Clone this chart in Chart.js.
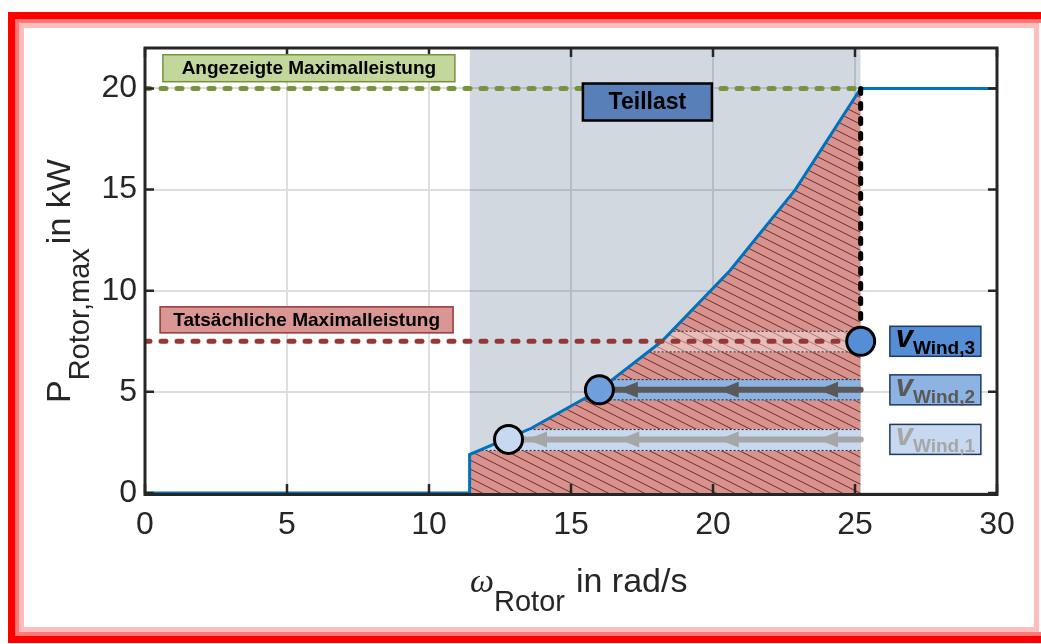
<!DOCTYPE html>
<html lang="de">
<head>
<meta charset="UTF-8">
<title>Maximale Rotorleistung</title>
<script src="https://cdn.jsdelivr.net/npm/chart.js@4"></script>
<style>
  * { margin:0; padding:0; box-sizing:border-box; }
  html, body { width:1041px; height:644px; overflow:hidden; background:#fff; }
  .frame { position:absolute; }
  #f1 { left:8px; top:12px; width:1100px; height:631px; border:7px solid #ff0000; border-right:none; }
  #f2 { left:15px; top:19px; width:1100px; height:617px; border:4px solid #ff7878; border-right:none; }
  #f3 { left:19px; top:23px; width:1020px; height:609px; border:5px solid #ffbcbc; }
  #chart { position:absolute; left:0; top:0; }
</style>
</head>
<body>
<div class="frame" id="f1"></div>
<div class="frame" id="f2"></div>
<div class="frame" id="f3"></div>
<canvas id="chart" width="1041" height="644"></canvas>

<script>
// Kennlinie P(omega)
const omegaCurve = [0, 11.43, 11.43, 13.6, 15.9, 18.2, 20.6, 22.9, 25.2, 30];
const powerCurve = [0, 0, 1.9, 3.2, 5.0, 7.5, 11.0, 15.0, 20.0, 20.0];

// Teillastbereich und Leistungsgrenzen
const partLoad = [11.43, 25.2];
const yTop = 22;
const ratedPower = 20;
const actualPower = 7.5;

// Arbeitspunkte fuer drei Windgeschwindigkeiten
const windNames = ['Wind,1', 'Wind,2', 'Wind,3'];
const windOmega = [12.8, 16.0, 25.2];
const windPower = [2.65, 5.1, 7.5];
const bandLow = [2.08, 4.58, 6.95];
const bandHigh = [3.16, 5.63, 8.02];
const arrowTips = [[13.45, 16.7, 20.2, 23.7], [16.65, 20.2, 23.7], []];

const xTicks = [0, 5, 10, 15, 20, 25, 30];
const yTicks = [0, 5, 10, 15, 20];

const pts = (xs, ys) => xs.map((v, i) => ({ x: v, y: ys[i] }));
const FONT = '"Liberation Sans", Arial, sans-serif';

const canvas = document.getElementById('chart');
const ctx = canvas.getContext('2d');

function hatchPattern() {
  const c = document.createElement('canvas');
  c.width = 18; c.height = 9;
  const g = c.getContext('2d');
  g.fillStyle = '#d9938f';
  g.fillRect(0, 0, 18, 9);
  g.strokeStyle = '#6e2c29';
  g.lineWidth = 1;
  g.beginPath();
  for (let k = -1; k <= 1; k++) { g.moveTo(0, 9 * k); g.lineTo(18, 9 + 9 * k); }
  g.stroke();
  return ctx.createPattern(c, 'repeat');
}

const hatchX = omegaCurve.slice(2, 9);
const hatchP = powerCurve.slice(2, 9);

const bandFill = ['#c6d9f1', '#8db3e2', 'rgba(255,255,255,0.38)'];
const arrowColor = ['#a6a6a6', '#595959', null];
const dotFill = ['#c6d9f1', '#6f9fdc', '#558ed5'];
const boxFill = ['#c6d9f1', '#8db3e2', '#558ed5'];
const boxText = ['#a6a6a6', '#595959', '#000000'];

function box(c, cx, cy, w, h, fill, stroke, lw) {
  c.fillStyle = fill;
  c.fillRect(cx - w / 2, cy - h / 2, w, h);
  c.strokeStyle = stroke;
  c.lineWidth = lw;
  c.strokeRect(cx - w / 2, cy - h / 2, w, h);
}

const overlay = {
  id: 'overlay',
  afterDatasetDraw(chart, args) {
    if (args.index !== 1) return;
    const { ctx: c, scales: { x, y } } = chart;
    c.save();
    // Baender nur innerhalb der schraffierten Flaeche
    c.beginPath();
    c.moveTo(x.getPixelForValue(hatchX[0]), y.getPixelForValue(0));
    hatchX.forEach((v, i) => c.lineTo(x.getPixelForValue(v), y.getPixelForValue(hatchP[i])));
    c.lineTo(x.getPixelForValue(hatchX[hatchX.length - 1]), y.getPixelForValue(0));
    c.closePath();
    c.clip();
    const x0 = x.getPixelForValue(partLoad[0]);
    const x1 = x.getPixelForValue(partLoad[1]);
    windPower.forEach((p, i) => {
      const yt = y.getPixelForValue(bandHigh[i]);
      const yb = y.getPixelForValue(bandLow[i]);
      c.fillStyle = bandFill[i];
      c.fillRect(x0, yt, x1 - x0, yb - yt);
      c.strokeStyle = '#222';
      c.lineWidth = 1;
      c.setLineDash([2, 2]);
      c.beginPath();
      c.moveTo(x0, yt + 0.5); c.lineTo(x1, yt + 0.5);
      c.moveTo(x0, yb - 0.5); c.lineTo(x1, yb - 0.5);
      c.stroke();
      c.setLineDash([]);
    });
    c.restore();

    // Pfeile entlang der Arbeitslinien
    c.save();
    windPower.forEach((p, i) => {
      if (!arrowColor[i]) return;
      const py = y.getPixelForValue(p);
      c.strokeStyle = arrowColor[i];
      c.fillStyle = arrowColor[i];
      c.lineWidth = 6;
      c.lineCap = 'round';
      c.beginPath();
      c.moveTo(x.getPixelForValue(partLoad[1]), py);
      c.lineTo(x.getPixelForValue(windOmega[i]), py);
      c.stroke();
      arrowTips[i].forEach(t => {
        const tx = x.getPixelForValue(t);
        c.beginPath();
        c.moveTo(tx, py);
        c.lineTo(tx + 20, py - 8);
        c.lineTo(tx + 20, py + 8);
        c.closePath();
        c.fill();
      });
    });
    c.restore();
  },
  afterDatasetsDraw(chart) {
    const { ctx: c, chartArea: a, scales: { x, y } } = chart;
    c.save();
    c.strokeStyle = '#262626';
    c.lineWidth = 3;
    c.strokeRect(a.left, a.top, a.right - a.left, a.bottom - a.top + 1.5);
    c.lineWidth = 2.5;
    c.beginPath();
    xTicks.forEach(v => {
      const px = x.getPixelForValue(v);
      c.moveTo(px, a.bottom); c.lineTo(px, a.bottom - 9);
      c.moveTo(px, a.top); c.lineTo(px, a.top + 9);
    });
    yTicks.forEach(v => {
      const py = y.getPixelForValue(v);
      c.moveTo(a.left, py); c.lineTo(a.left + 9, py);
      c.moveTo(a.right, py); c.lineTo(a.right - 9, py);
    });
    c.stroke();
    c.restore();
  },
  afterDraw(chart) {
    const { ctx: c, scales: { x, y } } = chart;
    c.save();
    c.textAlign = 'center';
    c.textBaseline = 'middle';

    // Beschriftungen der Leistungsgrenzen
    box(c, x.getPixelForValue(5.77), y.getPixelForValue(21.0), 292, 27, '#c3d69b', '#77933c', 1.5);
    box(c, x.getPixelForValue(5.69), y.getPixelForValue(8.56), 293, 26, '#d99694', '#953735', 1.5);
    box(c, x.getPixelForValue(17.69), y.getPixelForValue(19.33), 129, 37, '#587fb7', '#000', 2.5);
    c.fillStyle = '#000';
    c.font = 'bold 19px ' + FONT;
    c.fillText('Angezeigte Maximalleistung', x.getPixelForValue(5.77), y.getPixelForValue(21.0) + 1);
    c.fillText('Tatsächliche Maximalleistung', x.getPixelForValue(5.69), y.getPixelForValue(8.56) + 1);
    c.font = 'bold 23px ' + FONT;
    c.fillText('Teillast', x.getPixelForValue(17.69), y.getPixelForValue(19.33) + 1);

    // Legende der Windgeschwindigkeiten
    c.textAlign = 'left';
    c.textBaseline = 'alphabetic';
    windPower.forEach((p, i) => {
      const cx = x.getPixelForValue(27.83);
      const cy = y.getPixelForValue(p);
      box(c, cx, cy, 91, 30, boxFill[i], '#1f3864', 1.5);
      c.fillStyle = boxText[i];
      c.font = 'italic bold 31px ' + FONT;
      const wv = c.measureText('v').width;
      c.font = 'bold 19px ' + FONT;
      const ws = c.measureText(windNames[i]).width;
      const left = cx - (wv + ws) / 2;
      c.font = 'italic bold 31px ' + FONT;
      c.fillText('v', left, cy + 6);
      c.font = 'bold 19px ' + FONT;
      c.fillText(windNames[i], left + wv, cy + 13);
    });

    // Achsentitel
    c.fillStyle = '#262626';
    c.font = 'italic 34px "Liberation Serif", serif';
    c.fillText('\u03c9', 470, 592);
    let px = 470 + c.measureText('\u03c9').width;
    c.font = '29px ' + FONT;
    c.fillText('Rotor', px, 611);
    px += c.measureText('Rotor').width + 11;
    c.font = '34px ' + FONT;
    c.fillText('in rad/s', px, 592);

    c.translate(70, 403);
    c.rotate(-Math.PI / 2);
    c.font = '34px ' + FONT;
    c.fillText('P', 0, 0);
    let py = c.measureText('P').width;
    c.font = '29px ' + FONT;
    c.fillText('Rotor,max', py, 19);
    py += c.measureText('Rotor,max').width + 4;
    c.font = '34px ' + FONT;
    c.fillText('in kW', py, 0);
    c.restore();
  }
};

new Chart(ctx, {
  type: 'line',
  data: {
    datasets: [
      { // Teillastbereich
        data: pts(partLoad, [yTop, yTop]),
        fill: 'origin', backgroundColor: 'rgba(30,60,100,0.2)',
        borderWidth: 0, pointRadius: 0, order: 8
      },
      { // nutzbare Leistung unter der Kennlinie
        data: pts(hatchX, hatchP),
        fill: 'origin', backgroundColor: hatchPattern(),
        borderWidth: 0, pointRadius: 0, order: 7
      },
      { // Kennlinie
        data: pts(omegaCurve, powerCurve),
        borderColor: '#0072bd', borderWidth: 3, pointRadius: 0, fill: false, order: 5
      },
      { // angezeigte Maximalleistung
        data: pts([0, partLoad[1]], [ratedPower, ratedPower]),
        borderColor: '#77933c', borderWidth: 5, borderDash: [5, 11], borderCapStyle: 'round',
        pointRadius: 0, fill: false, order: 4
      },
      { // tatsaechliche Maximalleistung
        data: pts([0, partLoad[1]], [actualPower, actualPower]),
        borderColor: '#953735', borderWidth: 5, borderDash: [5, 11], borderCapStyle: 'round',
        pointRadius: 0, fill: false, order: 3
      },
      { // Grenze bei Nenndrehzahl
        data: pts([partLoad[1], partLoad[1]], [ratedPower, actualPower]),
        borderColor: '#000', borderWidth: 5, borderDash: [5, 10], borderCapStyle: 'round',
        pointRadius: 0, fill: false, order: 2
      },
      { // Arbeitspunkte
        data: pts(windOmega, windPower),
        showLine: false, pointRadius: 14, pointBorderWidth: 3,
        pointBackgroundColor: dotFill, pointBorderColor: '#000', order: 1
      }
    ]
  },
  options: {
    responsive: false,
    animation: false,
    devicePixelRatio: 1,
    layout: { padding: { top: 48, right: 44, left: 0, bottom: 0 } },
    plugins: { legend: { display: false }, tooltip: { enabled: false } },
    scales: {
      x: {
        type: 'linear', min: 0, max: 30,
        afterBuildTicks: s => { s.ticks = xTicks.map(v => ({ value: v })); },
        afterFit: s => { s.height = 151; },
        grid: { color: '#dedede', lineWidth: 2, drawTicks: false },
        border: { display: false },
        ticks: { font: { size: 32, family: FONT }, color: '#262626', padding: 13, maxRotation: 0 }
      },
      y: {
        type: 'linear', min: 0, max: yTop,
        afterBuildTicks: s => { s.ticks = yTicks.map(v => ({ value: v })); },
        afterFit: s => { s.width = 145; },
        grid: { color: '#dedede', lineWidth: 2, drawTicks: false },
        border: { display: false },
        ticks: { font: { size: 32, family: FONT }, color: '#262626', padding: 8 }
      }
    }
  },
  plugins: [overlay]
});
</script>
</body>
</html>
